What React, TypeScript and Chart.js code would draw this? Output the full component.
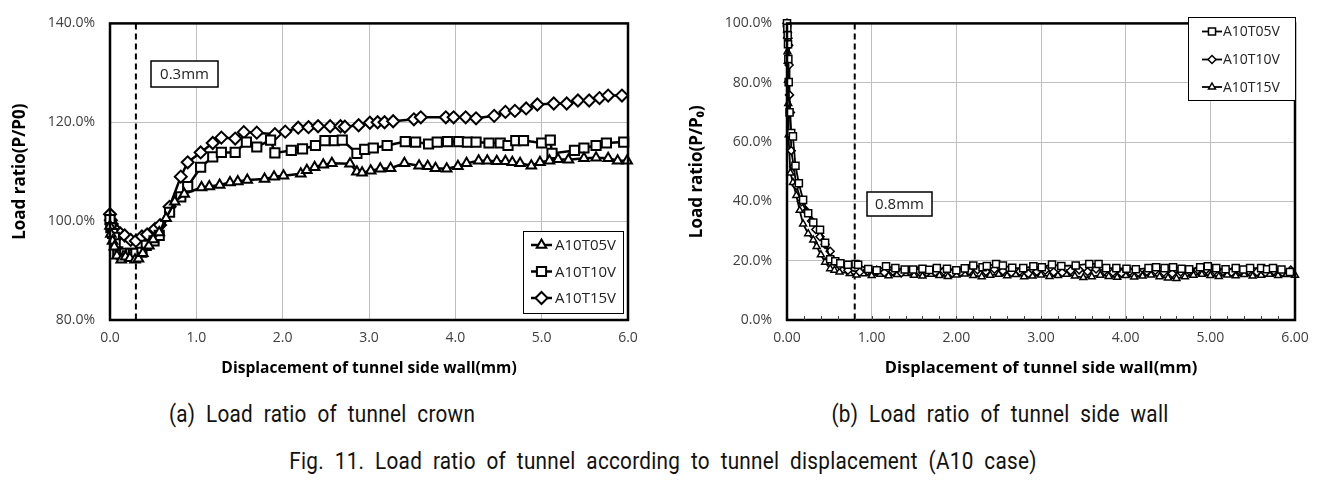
import React, { useEffect, useRef } from 'react';
import { Chart, registerables } from 'chart.js';
Chart.register(...registerables);

// ---------- DATA ----------
const seriesNames = ['A10T05V', 'A10T10V', 'A10T15V'];

// (a) tunnel crown: [displacement mm, load ratio %]
const crownA10T05V: [number, number][] = [
  [0, 99.0], [0.01, 97.4], [0.03, 96.0], [0.05, 94.8], [0.08, 93.0], [0.13, 92.2], [0.18, 92.8], [0.23, 92.5],
  [0.29, 92.2], [0.33, 92.4], [0.38, 93.5], [0.45, 95.0], [0.5, 96.3], [0.57, 97.7], [0.65, 100.6], [0.75, 103.9],
  [0.86, 105.5], [1.06, 106.8], [1.15, 107.0], [1.27, 107.3], [1.39, 107.8], [1.48, 108.0], [1.59, 108.3],
  [1.79, 108.5], [1.9, 109.0], [2.01, 109.2], [2.21, 109.6], [2.28, 110.3], [2.37, 110.9], [2.47, 111.4],
  [2.57, 111.7], [2.78, 111.6], [2.86, 110.0], [2.92, 109.8], [3.02, 110.2], [3.13, 110.6], [3.25, 110.7],
  [3.41, 111.7], [3.58, 111.2], [3.68, 111.1], [3.77, 110.7], [3.9, 110.6], [4.03, 111.1], [4.13, 111.7],
  [4.27, 112.2], [4.37, 112.2], [4.48, 112.1], [4.58, 112.1], [4.66, 111.9], [4.75, 111.7], [4.88, 111.2],
  [4.98, 111.9], [5.09, 112.2], [5.19, 112.5], [5.31, 112.4], [5.49, 112.7], [5.63, 112.8], [5.77, 112.7],
  [5.88, 112.2], [5.99, 112.2],
];
const crownA10T10V: [number, number][] = [
  [0, 100.3], [0.01, 98.7], [0.03, 97.5], [0.05, 96.7], [0.06, 95.4], [0.09, 93.8], [0.13, 93.2], [0.17, 93.5],
  [0.2, 93.0], [0.24, 93.5], [0.27, 93.2], [0.3, 93.5], [0.37, 93.7], [0.42, 95.1], [0.51, 96.0], [0.57, 97.1],
  [0.69, 101.8], [0.82, 104.9], [0.9, 107.0], [1.05, 110.9], [1.19, 113.0], [1.29, 113.9], [1.45, 113.9],
  [1.58, 116.0], [1.7, 115.0], [1.86, 116.4], [1.91, 113.8], [2.1, 114.3], [2.23, 114.6], [2.38, 115.3],
  [2.49, 116.3], [2.6, 116.3], [2.69, 116.4], [2.86, 113.7], [2.95, 114.5], [3.05, 114.8], [3.21, 115.3],
  [3.42, 116.1], [3.54, 116.0], [3.69, 115.6], [3.79, 116.0], [3.91, 116.1], [4.04, 116.1], [4.14, 116.0],
  [4.24, 116.0], [4.39, 115.8], [4.52, 115.8], [4.61, 115.3], [4.7, 116.3], [4.79, 116.3], [5.0, 115.8],
  [5.1, 116.4], [5.12, 113.7], [5.38, 114.3], [5.49, 114.8], [5.63, 115.3], [5.75, 115.8], [5.95, 116.0],
];
const crownA10T15V: [number, number][] = [
  [0, 101.4], [0.01, 100.2], [0.02, 99.4], [0.04, 98.6], [0.08, 98.0], [0.12, 97.5], [0.17, 97.1], [0.24, 96.2],
  [0.3, 96.0], [0.37, 96.9], [0.43, 97.3], [0.52, 98.4], [0.58, 99.2], [0.69, 102.9], [0.82, 109.0],
  [0.9, 111.9], [1.05, 113.9], [1.19, 115.8], [1.29, 116.9], [1.45, 116.7], [1.55, 118.0], [1.7, 117.9],
  [1.91, 117.6], [2.03, 118.1], [2.18, 118.9], [2.3, 119.0], [2.41, 119.2], [2.55, 119.2], [2.67, 119.2],
  [2.72, 119.1], [2.88, 119.4], [3.01, 119.9], [3.1, 120.0], [3.18, 120.0], [3.28, 120.2], [3.52, 120.6],
  [3.6, 121.0], [3.89, 121.0], [3.98, 121.0], [4.12, 121.0], [4.24, 120.8], [4.45, 121.3], [4.58, 122.1],
  [4.69, 122.3], [4.82, 122.8], [4.95, 123.6], [5.14, 123.8], [5.29, 123.8], [5.42, 124.4], [5.55, 124.4],
  [5.67, 124.9], [5.77, 125.4], [5.93, 125.4],
];

// (b) tunnel side wall
const wallA10T05V: [number, number][] = [
  [0, 100], [0.004, 98.5], [0.008, 96], [0.012, 93], [0.016, 88], [0.02, 80.2], [0.03, 70], [0.05, 63],
  [0.07, 61.9], [0.1, 52], [0.14, 46.1], [0.19, 40.5], [0.25, 36], [0.31, 32.9], [0.39, 30.4], [0.45, 26],
  [0.51, 20.5], [0.57, 19.8], [0.63, 19.1], [0.72, 18.6], [0.81, 18.9], [0.84, 18.6], [0.96, 17.2], [1.06, 16.8],
  [1.17, 18.1], [1.28, 17.5], [1.39, 17.0], [1.49, 17.0], [1.6, 17.3], [1.68, 16.9], [1.77, 17.5], [1.89, 17.3],
  [2.0, 16.8], [2.1, 17.4], [2.2, 18.4], [2.31, 17.8], [2.36, 18.2], [2.47, 18.9], [2.55, 18.4], [2.66, 17.6],
  [2.79, 17.5], [2.91, 18.1], [3.01, 17.8], [3.13, 18.7], [3.24, 18.2], [3.41, 18.4], [3.57, 18.9], [3.68, 18.9],
  [3.77, 17.5], [3.89, 17.5], [4.01, 17.3], [4.12, 17.1], [4.27, 17.5], [4.36, 17.8], [4.46, 17.5], [4.56, 17.8],
  [4.66, 17.3], [4.75, 17.1], [4.88, 17.8], [4.97, 18.1], [5.07, 17.5], [5.18, 17.1], [5.3, 17.5], [5.39, 17.0],
  [5.47, 17.5], [5.6, 17.5], [5.67, 17.1], [5.74, 17.5], [5.84, 17.0], [5.94, 16.2],
];
const wallA10T10V: [number, number][] = [
  [0, 100], [0.006, 97], [0.012, 95], [0.02, 92.6], [0.025, 86], [0.03, 75.9], [0.04, 70], [0.05, 57.1],
  [0.08, 51.7], [0.11, 45.3], [0.17, 39.9], [0.23, 36.7], [0.29, 33.4], [0.34, 30.5], [0.39, 28.1], [0.45, 25.5],
  [0.51, 23.2], [0.55, 20.0], [0.62, 18.4], [0.72, 16.8], [0.86, 16.2], [0.95, 16.5], [1.06, 16.8], [1.15, 16.0],
  [1.25, 16.4], [1.35, 15.9], [1.45, 16.3], [1.55, 16.6], [1.65, 16.0], [1.75, 16.2], [1.85, 16.5], [1.95, 15.8],
  [2.05, 16.1], [2.15, 16.6], [2.25, 16.9], [2.35, 16.3], [2.45, 17.1], [2.55, 16.5], [2.65, 16.0], [2.75, 16.4],
  [2.85, 15.7], [2.95, 16.3], [3.05, 16.8], [3.15, 16.2], [3.25, 16.0], [3.35, 16.6], [3.45, 16.9], [3.55, 16.3],
  [3.65, 17.2], [3.75, 16.5], [3.85, 16.1], [3.95, 15.8], [4.05, 16.4], [4.15, 16.0], [4.25, 16.3], [4.35, 16.7],
  [4.45, 16.1], [4.55, 15.7], [4.65, 16.2], [4.75, 16.5], [4.85, 16.9], [4.95, 17.0], [5.05, 16.6], [5.15, 16.3],
  [5.25, 16.1], [5.35, 16.4], [5.45, 16.6], [5.55, 16.2], [5.65, 16.0], [5.75, 16.5], [5.85, 16.1], [5.95, 16.8],
];
const wallA10T15V: [number, number][] = [
  [0, 100], [0.003, 95.8], [0.006, 90.4], [0.009, 87.2], [0.012, 80.8], [0.015, 73], [0.02, 62.5], [0.04, 49.6],
  [0.07, 46.4], [0.11, 42], [0.15, 37], [0.19, 32.4], [0.25, 29.1], [0.31, 27], [0.35, 24.8], [0.4, 22],
  [0.45, 19.5], [0.51, 17.3], [0.56, 16.8], [0.62, 16.2], [0.74, 15.7], [0.82, 15.2], [0.9, 15.6], [1.0, 15.0],
  [1.1, 15.4], [1.2, 14.9], [1.3, 15.3], [1.4, 15.7], [1.5, 15.1], [1.6, 14.8], [1.7, 15.4], [1.8, 15.0],
  [1.9, 14.7], [2.0, 15.2], [2.1, 15.5], [2.2, 15.0], [2.3, 14.6], [2.4, 15.1], [2.5, 15.4], [2.6, 14.9],
  [2.7, 15.3], [2.8, 14.6], [2.9, 14.8], [3.0, 15.2], [3.1, 14.7], [3.2, 15.0], [3.3, 15.4], [3.4, 14.8],
  [3.5, 14.3], [3.6, 14.6], [3.7, 15.1], [3.8, 14.7], [3.9, 14.4], [4.0, 15.0], [4.1, 14.5], [4.2, 14.8],
  [4.3, 15.2], [4.4, 14.6], [4.5, 14.2], [4.6, 14.0], [4.7, 14.6], [4.8, 15.1], [4.9, 15.4], [5.0, 15.0],
  [5.1, 14.7], [5.2, 15.2], [5.3, 14.9], [5.4, 15.3], [5.5, 14.8], [5.6, 15.1], [5.7, 15.4], [5.8, 15.0],
  [5.9, 15.3], [6.0, 15.1],
];

// ticks
const crownXTicks = [0, 1, 2, 3, 4, 5, 6];
const crownXLabels = ['0.0', '1.0', '2.0', '3.0', '4.0', '5.0', '6.0'];
const crownYTicks = [80, 100, 120, 140];
const crownYLabels = ['80.0%', '100.0%', '120.0%', '140.0%'];
const wallXTicks = [0, 1, 2, 3, 4, 5, 6];
const wallXLabels = ['0.00', '1.00', '2.00', '3.00', '4.00', '5.00', '6.00'];
const wallYTicks = [0, 20, 40, 60, 80, 100];
const wallYLabels = ['0.0%', '20.0%', '40.0%', '60.0%', '80.0%', '100.0%'];

const crownLimit = 0.3;
const wallLimit = 0.8;
const crownLimitText = '0.3mm';
const wallLimitText = '0.8mm';

const xTitle = 'Displacement of tunnel side wall(mm)';
const crownYTitle = 'Load ratio(P/P0)';
const wallYTitle = 'Load ratio(P/P\u2080)';

const captionA = '(a) Load ratio of tunnel crown';
const captionB = '(b) Load ratio of tunnel side wall';
const figCaption = 'Fig. 11. Load ratio of tunnel according to tunnel displacement (A10 case)';

// ---------- HELPERS ----------
const FONT = "'Open Sans', 'Noto Sans', 'DejaVu Sans', sans-serif";

function drawMarker(ctx: CanvasRenderingContext2D, style: string, x: number, y: number, r: number) {
  ctx.beginPath();
  if (style === 'rect') {
    const s = r * Math.SQRT1_2;
    ctx.rect(x - s, y - s, 2 * s, 2 * s);
  } else if (style === 'rectRot') {
    ctx.moveTo(x - r, y);
    ctx.lineTo(x, y - r);
    ctx.lineTo(x + r, y);
    ctx.lineTo(x, y + r);
    ctx.closePath();
  } else {
    ctx.moveTo(x, y - r);
    ctx.lineTo(x + r * 0.866, y + r * 0.5);
    ctx.lineTo(x - r * 0.866, y + r * 0.5);
    ctx.closePath();
  }
  ctx.fill();
  ctx.stroke();
}

type Deco = {
  limit: number;
  boxText: string;
  box: [number, number, number, number];
  legendBox: [number, number, number, number];
  legendRows: number[];
  legendLine: [number, number];
  legendTextX: number;
  legendFont: string;
  minorTicks: boolean;
};

function makePlugin(deco: Deco) {
  return {
    id: 'deco',
    beforeDatasetsDraw(chart: any) {
      const { ctx, chartArea } = chart;
      const x = chart.scales.x.getPixelForValue(deco.limit);
      ctx.save();
      ctx.strokeStyle = '#000';
      ctx.lineWidth = 2;
      ctx.setLineDash([6, 4]);
      ctx.beginPath();
      ctx.moveTo(x, chartArea.top);
      ctx.lineTo(x, chartArea.bottom);
      ctx.stroke();
      ctx.restore();
    },
    afterDatasetsDraw(chart: any) {
      const { ctx, chartArea } = chart;
      ctx.save();
      ctx.strokeStyle = '#000';
      ctx.lineWidth = 2.5;
      ctx.strokeRect(chartArea.left, chartArea.top, chartArea.right - chartArea.left, chartArea.bottom - chartArea.top);
      if (deco.minorTicks) {
        const sx = chart.scales.x;
        ctx.lineWidth = 1;
        ctx.strokeStyle = '#404040';
        for (let v = 0.2; v < sx.max; v += 0.2) {
          const px = Math.round(sx.getPixelForValue(v)) + 0.5;
          ctx.beginPath();
          ctx.moveTo(px, chartArea.bottom);
          ctx.lineTo(px, chartArea.bottom - 4);
          ctx.stroke();
        }
      }
      const [bx1, by1, bx2, by2] = deco.box;
      ctx.fillStyle = '#fff';
      ctx.fillRect(bx1, by1, bx2 - bx1, by2 - by1);
      ctx.strokeStyle = '#000';
      ctx.lineWidth = 1.5;
      ctx.strokeRect(bx1, by1, bx2 - bx1, by2 - by1);
      ctx.fillStyle = '#222';
      ctx.font = `15px ${FONT}`;
      ctx.textAlign = 'center';
      ctx.textBaseline = 'middle';
      ctx.fillText(deco.boxText, (bx1 + bx2) / 2, (by1 + by2) / 2 + 1);
      const [lx1, ly1, lx2, ly2] = deco.legendBox;
      ctx.fillStyle = '#fff';
      ctx.fillRect(lx1, ly1, lx2 - lx1, ly2 - ly1);
      ctx.strokeStyle = '#000';
      ctx.lineWidth = 1;
      ctx.strokeRect(lx1 + 0.5, ly1 + 0.5, lx2 - lx1, ly2 - ly1);
      chart.data.datasets.forEach((ds: any, i: number) => {
        const y = deco.legendRows[i];
        ctx.strokeStyle = '#000';
        ctx.lineWidth = ds.borderWidth;
        ctx.beginPath();
        ctx.moveTo(deco.legendLine[0], y);
        ctx.lineTo(deco.legendLine[1], y);
        ctx.stroke();
        ctx.fillStyle = '#fff';
        ctx.lineWidth = ds.pointBorderWidth;
        drawMarker(ctx, ds.pointStyle, (deco.legendLine[0] + deco.legendLine[1]) / 2, y, ds.pointRadius);
        ctx.fillStyle = '#222';
        ctx.font = deco.legendFont;
        ctx.textAlign = 'left';
        ctx.textBaseline = 'middle';
        ctx.fillText(ds.label, deco.legendTextX, y + 1);
      });
      ctx.restore();
    },
  };
}

function makeConfig(opts: {
  series: [number, number][][];
  styles: string[];
  radius: number[];
  lineWidth: number;
  pointBorder: number;
  xTicks: number[]; xLabels: string[];
  yTicks: number[]; yLabels: string[];
  yMin: number; yMax: number; yStep: number;
  yTitle: string; yTitlePad: number;
  xTitleSize: number;
  yAxisWidth: number;
  padRight: number;
  deco: Deco;
}) {
  return {
    type: 'line',
    data: {
      datasets: opts.series.map((s, i) => ({
        label: seriesNames[i],
        data: s.map(([x, y]) => ({ x, y })),
        borderColor: '#000',
        borderWidth: opts.lineWidth,
        pointStyle: opts.styles[i],
        pointRadius: opts.radius[i],
        pointBorderWidth: opts.pointBorder,
        pointBackgroundColor: '#fff',
        pointBorderColor: '#000',
        fill: false,
        tension: 0,
        clip: false,
      })),
    },
    options: {
      animation: false,
      responsive: false,
      layout: { padding: { left: 0, top: 17, right: opts.padRight, bottom: 0 } },
      plugins: { legend: { display: false }, tooltip: { enabled: false } },
      scales: {
        x: {
          type: 'linear',
          min: 0,
          max: 6,
          afterFit: (s: any) => { s.height = 70; },
          ticks: {
            stepSize: 1,
            color: '#404040',
            font: { family: FONT, size: 14 },
            padding: 10,
            maxRotation: 0,
            callback: (v: number) => {
              const i = opts.xTicks.indexOf(v);
              return i >= 0 ? opts.xLabels[i] : '';
            },
          },
          grid: { color: '#bfbfbf', lineWidth: 1, drawTicks: false },
          border: { display: false },
          title: {
            display: true,
            text: xTitle,
            color: '#000',
            font: { family: FONT, size: opts.xTitleSize, weight: 'bold' },
            padding: { top: 0, bottom: 12 },
          },
        },
        y: {
          min: opts.yMin,
          max: opts.yMax,
          afterFit: (s: any) => { s.width = opts.yAxisWidth; },
          ticks: {
            stepSize: opts.yStep,
            color: '#404040',
            font: { family: FONT, size: 14 },
            padding: 15,
            callback: (v: number) => {
              const i = opts.yTicks.indexOf(v);
              return i >= 0 ? opts.yLabels[i] : '';
            },
          },
          grid: { color: '#bfbfbf', lineWidth: 1, drawTicks: false },
          border: { display: false },
          title: {
            display: true,
            text: opts.yTitle,
            color: '#000',
            font: { family: FONT, size: 17, weight: 'bold' },
            padding: { top: opts.yTitlePad, bottom: 0 },
          },
        },
      },
    },
    plugins: [makePlugin(opts.deco)],
  };
}

function ChartBox({ config, left, width, height }: { config: any; left: number; width: number; height: number }) {
  const ref = useRef<HTMLCanvasElement>(null);
  useEffect(() => {
    const chart = new Chart(ref.current as HTMLCanvasElement, config);
    return () => chart.destroy();
  }, []);
  return (
    <canvas
      ref={ref}
      width={width}
      height={height}
      style={{ position: 'absolute', left, top: 0, width, height }}
    />
  );
}

const crownConfig = makeConfig({
  series: [crownA10T05V, crownA10T10V, crownA10T15V],
  styles: ['triangle', 'rect', 'rectRot'],
  radius: [5.5, 6.5, 6],
  lineWidth: 2.5,
  pointBorder: 2,
  xTicks: crownXTicks, xLabels: crownXLabels,
  yTicks: crownYTicks, yLabels: crownYLabels,
  yMin: 80, yMax: 140, yStep: 20,
  yTitle: crownYTitle, yTitlePad: 10,
  xTitleSize: 15.6,
  yAxisWidth: 110,
  padRight: 32,
  deco: {
    limit: crownLimit,
    boxText: crownLimitText,
    box: [151, 61, 218, 87],
    legendBox: [523, 231, 623, 313],
    legendRows: [245, 271.5, 298],
    legendLine: [531, 552],
    legendTextX: 555,
    legendFont: `15px ${FONT}`,
    minorTicks: false,
  },
});

const wallConfig = makeConfig({
  series: [wallA10T05V, wallA10T10V, wallA10T15V],
  styles: ['rect', 'rectRot', 'triangle'],
  radius: [5, 4, 4],
  lineWidth: 1.8,
  pointBorder: 1.5,
  xTicks: wallXTicks, xLabels: wallXLabels,
  yTicks: wallYTicks, yLabels: wallYLabels,
  yMin: 0, yMax: 100, yStep: 20,
  yTitle: wallYTitle, yTitlePad: 24,
  xTitleSize: 16.5,
  yAxisWidth: 124,
  padRight: 31,
  deco: {
    limit: wallLimit,
    boxText: wallLimitText,
    box: [204, 192, 269, 216],
    legendBox: [525, 17, 632, 100],
    legendRows: [31.5, 59.5, 87],
    legendLine: [539, 559],
    legendTextX: 560,
    legendFont: `14px ${FONT}`,
    minorTicks: true,
  },
});

const captionStyle: React.CSSProperties = {
  position: 'absolute',
  fontFamily: "Roboto, 'Liberation Sans', sans-serif",
  fontSize: 23,
  color: '#111',
  whiteSpace: 'nowrap',
  letterSpacing: 0.3,
  wordSpacing: 6,
  lineHeight: '26px',
};

export default function App() {
  return (
    <div style={{ position: 'absolute', left: 0, top: 0, width: 1326, height: 483, background: '#fff', overflow: 'hidden' }}>
      <ChartBox config={crownConfig} left={0} width={660} height={390} />
      <ChartBox config={wallConfig} left={663} width={663} height={390} />
      <div style={{ ...captionStyle, left: 322, top: 402, transform: 'translateX(-50%) scaleX(0.9)' }}>{captionA}</div>
      <div style={{ ...captionStyle, left: 1000, top: 402, transform: 'translateX(-50%) scaleX(0.9)' }}>{captionB}</div>
      <div style={{ ...captionStyle, left: 663, top: 449, transform: 'translateX(-50%) scaleX(0.9)' }}>{figCaption}</div>
    </div>
  );
}
